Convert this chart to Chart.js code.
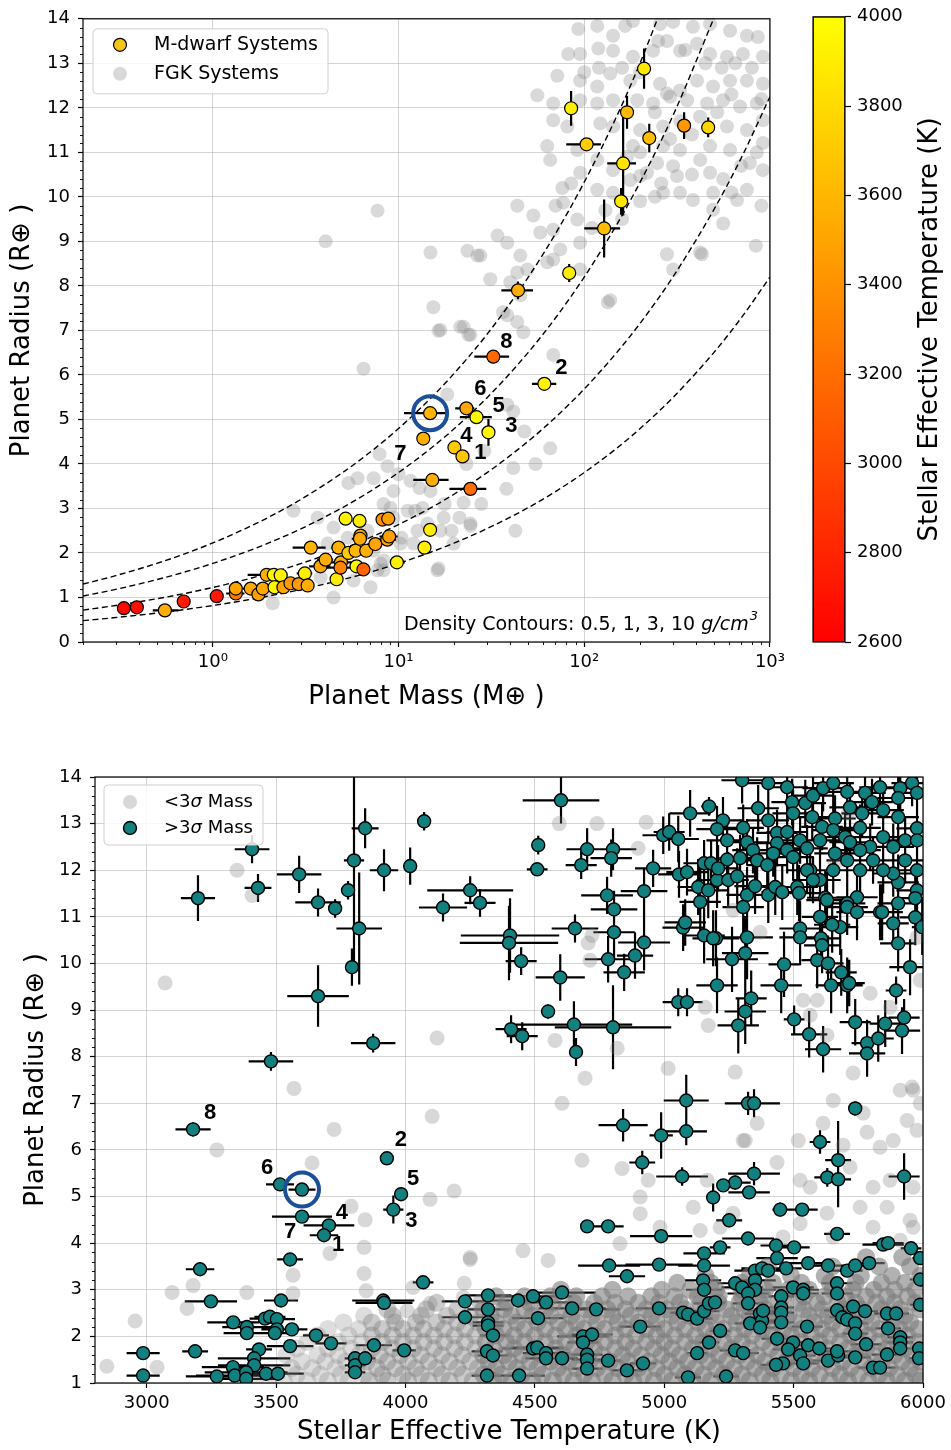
<!DOCTYPE html>
<html><head><meta charset="utf-8">
<script src="https://cdn.jsdelivr.net/npm/chart.js@4.4.1/dist/chart.umd.min.js"></script>
<style>
html,body{margin:0;padding:0;background:#fff}
body{width:951px;height:1450px;position:relative;overflow:hidden}
canvas{position:absolute;display:block}
</style></head><body>
<canvas id="topChart" style="left:0;top:0;width:790px;height:720px" width="790" height="720"></canvas>
<canvas id="cbarChart" style="left:790px;top:0;width:161px;height:720px" width="161" height="720"></canvas>
<canvas id="bottomChart" style="left:0;top:740px;width:951px;height:710px" width="951" height="710"></canvas>
<script>
// ---------------- DATA: top panel ----------------
const massTickValues = [1, 10, 100, 1000];
const massTickLabels = ['10\u2070', '10\u00b9', '10\u00b2', '10\u00b3'];
const cbarTicks = [2600, 2800, 3000, 3200, 3400, 3600, 3800, 4000];

// M-dwarf planets
const mdMass = [210,85,170,103,224,345,465,162,158,128,83,44,
  32.4,61,23.2,26.3,30.5,14.8,13.6,20,22.1,15.2,24.4,14.8,13.8,9.8,
  0.332,0.39,0.552,0.697,1.05,1.33,1.33,1.6,1.76,1.86,1.95,2.13,2.32,2.15,2.4,2.62,2.9,3.13,3.24,3.37,
  3.8,4.05,4.64,4.75,4.9,4.87,5.19,5.37,5.94,5.87,6.17,6.24,6.2,6.47,6.7,7.5,8.2,8.8,8.7,8.9];
const mdRad = [12.88,11.99,11.9,11.18,11.32,11.6,11.56,10.75,9.9,9.29,8.29,7.9,
  6.41,5.8,5.25,5.05,4.71,5.14,4.57,4.37,4.17,3.64,3.44,2.52,2.12,1.79,
  0.76,0.78,0.71,0.91,1.03,1.09,1.2,1.2,1.07,1.2,1.51,1.51,1.5,1.23,1.23,1.32,1.3,1.54,1.27,2.12,
  1.7,1.85,1.41,2.12,1.79,1.67,2.77,2.0,1.7,2.05,2.72,2.39,2.32,1.63,2.05,2.2,2.75,2.77,2.3,2.37];
const mdMassErrLo = [10,4,8,23,6,8,10,29,4,28,3,8.2,
  6.8,8.7,3,4.9,1.5,4.1,0.8,0.8,0.8,3.2,5.6,0.6,0.6,0.8,
  0.02,0.02,0.077,0.03,0.05,0.15,0.1,0.15,0.1,0.15,0.41,0.2,0.2,0.15,0.2,0.2,0.2,0.3,0.2,0.68,
  0.5,0.4,0.3,0.4,0.7,1.0,0.4,0.7,0.3,0.6,0.5,0.5,0.6,0.5,0.6,0.7,0.6,0.8,1.0,1.0];
const mdMassErrHi = [10,4,8,20,6,8,10,28,4,28,3,9,
  7,9.7,2.4,5.5,1.5,3.8,0.8,0.8,0.8,3.4,5.3,0.6,0.6,1.0,
  0.02,0.02,0.1,0.03,0.05,0.15,0.1,0.15,0.1,0.15,0.46,0.2,0.2,0.15,0.2,0.2,0.2,0.3,0.2,0.68,
  0.5,0.4,0.3,0.4,0.7,1.0,0.4,0.7,0.3,0.6,0.5,0.5,0.6,0.5,0.6,0.7,0.6,0.8,1.0,1.0];
const mdRadErr = [0.45,0.39,0.37,0.1,0.32,0.3,0.22,1.17,0.3,0.65,0.2,0.2,
  0.15,0.15,0.12,0.1,0.3,0.1,0.1,0.1,0.1,0.08,0.08,0.1,0.08,0.08,
  0.04,0.04,0.05,0.05,0.05,0.05,0.05,0.05,0.05,0.05,0.06,0.06,0.06,0.05,0.05,0.05,0.05,0.06,0.05,0.08,
  0.06,0.07,0.05,0.08,0.07,0.07,0.1,0.08,0.07,0.08,0.1,0.09,0.09,0.07,0.08,0.08,0.1,0.1,0.09,0.09];
const mdTeff = [3880,3900,3620,3720,3640,3430,3780,3850,3880,3640,3900,3550,
  3179,3928,3515,3983,3953,3600,3560,3704,3685,3554,3206,3900,3920,3920,
  2650,2680,3550,2750,2730,3250,3500,3520,3480,3520,3560,3950,3920,3950,3500,3450,3450,3920,3550,3580,
  3500,3560,3900,3560,3560,3330,3930,3720,3950,3600,3900,3500,3520,3150,3560,3500,3400,3480,3500,3480];
const topLabelText = ['8','2','6','5','3','7','4','1'];
const topLabelIndex = [12,13,14,15,16,18,19,20];
const topCircleIndex = 17;

// FGK planets (mass, radius)
const fgkPoints = [[92.9,13.77],[117.5,13.84],[143,13.62],[166,13.84],[183,13.95],[256,13.88],[301,13.93],[385,13.82],[476,13.88],[610,13.73],[752,13.62],[861,13.59],[916,13.15],[716,13.21],[587,13.15],[476,13.21],[405,13.44],[328,13.28],[279,13.5],[235,13.28],[183,13.15],[143,13.28],[119,13.33],[95,13.21],[82,13.21],
[71.6,12.72],[95,12.61],[117.5,12.48],[138,12.77],[177,12.61],[256,12.54],[279,12.32],[328,12.39],[405,12.61],[494,12.48],[610,12.61],[752,12.61],[916,12.54],[851,12.1],[690,12.03],[559,12.17],[459,12.1],[358,12.17],[290,12.25],[235,12.1],[193,12.17],[143,12.17],[117.5,12.1],[95,12.17],[68.1,12.1],[55.9,12.28],
[68.1,11.72],[81.1,11.58],[122,11.65],[143,11.58],[200,11.5],[266,11.58],[587,11.58],[752,11.5],[916,11.72],[916,11.21],[780,10.76],[610,11.05],[476,11.14],[421,10.83],[328,11.05],[266,11.14],[301,10.69],[247,10.76],[183,11.14],[200,10.47],[143,10.6],[117.5,10.83],[91.7,11.05],[63.2,11.14],[65.6,10.83],
[76.2,10.2],[95,10.54],[117.5,10.16],[143,10.09],[177,10.38],[218,10.54],[266,10.09],[316,10.47],[385,9.93],[494,10.09],[328,10.09],[476,10.54],[752,10.16],[916,10.6],[494,9.71],[665,9.93],[91.7,9.49],[68.1,9.26],[53.2,9.58],[43.6,9.8],[58,9.2],[95,8.97],[74.3,8.82],[63.2,8.53],[45.3,8.68],[38.5,8.97],[34.1,9.13],[27.6,8.68],[23.5,8.79],[14.86,8.75],
[31.2,8.15],[40,8.08],[49.4,8.37],[15.4,7.52],[16.8,7.01],[21.5,7.08],[38.5,7.34],[47,6.96],[279,8.71],[421,8.75],[301,8.37],[138,7.68],[95,8.37],[4.05,9.0],[7.71,9.69],[26.6,8.68],[16.4,6.99],[22.4,7.08],[23.8,6.9],
[43.6,8.3],[24.4,6.9],[36.6,7.41],[43.6,7.19],[68.1,6.45],[18.3,5.56],[38.5,5.33],[41.5,5.18],[45.3,7.79],[77,9.87],[68.1,8.59],[134,7.63],[430,8.71],
[250,13.5],[350,13.3],[450,13.0],[550,12.9],[650,13.0],[800,12.9],[900,12.2],[620,12.3],[520,11.9],[420,11.8],[330,11.7],[240,11.9],[200,12.8],[160,12.9],[120,12.9],[100,12.8],[850,11.0],[700,10.7],[560,10.4],[380,10.5],[260,10.3],[200,9.9],[160,9.5],[130,9.7],[110,9.3],[560,9.4],[620,10.1],[900,9.8],[840,8.9],[380,11.4],[290,11.3],[200,11.0],[240,10.0],[170,10.9],[85,10.3],[70,9.8],
[6.48,6.14],[8.73,3.95],[10,3.77],[5.38,3.57],[6.02,3.68],[7.34,3.68],[11.6,3.62],[13.46,3.01],[17.5,2.79],[24.4,2.61],[22.4,3.13],[8.3,3.1],[11.2,2.95],[9.4,2.79],[6.81,2.5],[12.65,2.5],[14.3,2.66],[4.47,2.57],[3.67,2.79],[2.72,2.95],[4.15,2.21],[5.32,2.34],[7.34,2.05],[8.3,1.83],[10.25,2.21],[16.8,2.5],[19.8,2.21],[16.4,1.65],[7.71,1.61],[3.81,1.45],[5.73,1.38],[7.07,1.23],[4.47,1.0],[2.1,0.87],[1.98,1.16],[8,1.76],[12.05,2.21],[14.86,3.39],
[7.9,4.22],[9.4,3.39],[9.06,3.01],[12.97,3.46],[12.3,2.95],[17.7,3.1],[21.3,2.79],[24.4,2.66],[27.9,3.1],[41.5,3.91],[38.1,3.44],[42.6,2.5],[65.6,4.35],[54.6,4.0],[23.2,4.0],[29,4.29],[16.2,1.61],[19.3,2.5],[10.4,2.34],[8.3,1.61],[47.6,4.73]];

// Density contours (mass in Earth masses, radius in Earth radii)
const contourMass = [0.2,0.3,0.5,0.7,1,1.5,2,3,5,7,10,15,20,30,50,70,100,150,200,300,500,700,1000];
const contourRho05 = [1.301,1.49,1.766,1.976,2.225,2.548,2.803,3.21,3.806,4.257,4.795,5.489,6.041,6.915,8.198,9.171,10.33,11.82,13.01,14.9];
const contourRho1 = [1.033,1.182,1.402,1.568,1.766,2.022,2.225,2.548,3.02,3.379,3.806,4.357,4.795,5.489,6.507,7.279,8.198,9.384,10.33,11.82,14.02];
const contourRho3 = [0.716,0.82,0.972,1.087,1.225,1.402,1.543,1.766,2.094,2.343,2.639,3.02,3.325,3.806,4.512,5.047,5.684,6.507,7.16,8.198,9.72,10.87,12.25];
const contourRho10 = [0.4795,0.5489,0.6507,0.7279,0.8198,0.9384,1.033,1.182,1.402,1.568,1.766,2.022,2.225,2.548,3.02,3.379,3.806,4.357,4.795,5.489,6.507,7.279,8.198];

// ---------------- DATA: bottom panel ----------------
// [Teff, radius, Teff error, radius error]
const tealCool = [[3179,6.44,68,0.15],[3515,5.26,54,0.1],[3600,5.15,52,0.08],[3600,4.57,116,0.1],[3704,4.38,98,0.1],[3685,4.17,55,0.1],[3554,3.65,50,0.08],[3928,5.82,25,0.12],[3983,5.05,25,0.1],[3953,4.72,39,0.3],
[3206,3.44,55,0.08],[3248,2.75,101,0.08],[3334,2.3,100,0.08],[3387,2.2,95,0.08],[3387,2.07,90,0.08],[3457,2.38,60,0.08],[3476,2.42,60,0.08],[3503,2.37,70,0.08],[3503,2.15,60,0.08],[3495,2.07,60,0.08],[3561,2.15,60,0.08],[3519,2.77,66,0.08],[3654,2.02,50,0.08],[3712,1.85,60,0.08],[3554,1.79,90,0.06],[3187,1.68,50,0.06],[2986,1.64,64,0.06],[2986,1.16,64,0.05],[3434,1.72,50,0.06],[3415,1.53,140,0.06],[3415,1.38,140,0.05],[3333,1.34,120,0.05],[3340,1.16,150,0.05],[3271,1.14,120,0.05],[3384,1.23,160,0.05],[3384,1.09,120,0.05],[3461,1.2,100,0.05],[3507,1.2,100,0.05],[3878,1.81,70,0.06],[3995,1.7,45,0.06],[3914,2.77,120,0.06],[3917,2.72,110,0.06],[4068,3.16,40,0.08],[3805,1.53,40,0.06],[3805,1.38,40,0.05],[3805,1.23,40,0.05],[3844,1.53,40,0.06],[4230,2.75,90,0.06],[4230,2.41,90,0.06],
[3198,11.4,66,0.49],[3407,12.45,67,0.3],[3430,11.62,52,0.3],[3589,11.91,86,0.4],[3662,11.31,88,0.3],[3728,11.18,26,0.2],[3778,11.57,15,0.2],[3801,12.21,39,2.3],[3844,12.9,52,0.43],[3821,10.75,88,1.2],[3793,9.92,20,0.4],[3917,12.0,55,0.45],[4018,12.09,20,0.4],[4072,13.05,15,0.2],[3662,9.3,119,0.66],[3480,7.9,86,0.2],[3875,8.29,86,0.2],[4250,11.57,166,0.3],[4145,11.2,93,0.3],[4288,11.3,60,0.3]];
const tealWarm = [[4404,10.6,190,0.8],[4400,10.44,190,0.8],[4447,10.05,60,0.3],[4598,9.7,95,0.5],[4601,13.5,148,0.5],[4513,12.54,20,0.2],[4509,12.02,40,0.1],[4702,12.45,80,0.45],[4802,12.45,90,0.45],[4795,12.26,80,0.4],[4679,12.11,60,0.3],[4779,11.46,100,0.4],[4922,11.55,90,0.5],[4957,12.04,70,0.4],[4806,11.16,90,0.4],[4655,10.75,90,0.3],[4806,10.67,80,0.6],[4783,10.09,90,0.5],[4845,9.81,80,0.4],[4887,10.17,70,0.5],[4922,10.45,100,0.6],[4551,8.97,20,0.15],[4408,8.59,60,0.3],[4451,8.44,60,0.3],[4651,8.69,225,0.5],[4802,8.63,225,0.9],[4659,8.1,20,0.3],[4996,12.75,80,0.4],[5019,12.82,60,0.4],
[4841,6.53,95,0.35],[4915,5.73,50,0.25],[4988,6.31,45,0.5],[4702,4.36,20,0.1],[4783,4.36,60,0.1],[4988,4.15,120,0.15],[4787,3.52,120,0.1],[4856,3.29,70,0.1],[4980,3.54,130,0.1],[4605,2.94,130,0.1],[4493,2.86,150,0.1],[4543,2.73,100,0.1],[4435,2.77,110,0.1],[4319,2.88,90,0.1],[4319,2.58,80,0.1],[4319,2.3,60,0.1],[4319,2.23,60,0.1],[4338,2.02,50,0.1],[4644,2.6,130,0.1],[4737,2.58,90,0.1],[4512,2.39,100,0.1],[4980,2.6,90,0.1],[4907,2.21,80,0.1],[4686,2.0,100,0.1],[4721,2.04,80,0.1],[4686,1.87,60,0.1],[4702,1.61,60,0.1],[4702,1.5,60,0.1],[4702,1.31,60,0.1],[4783,1.48,50,0.1],[4856,1.27,60,0.1],[4918,1.42,50,0.1],[4315,1.68,60,0.1],[4338,1.59,60,0.1],[4315,1.16,60,0.1],[4439,1.16,100,0.1],[4493,1.74,120,0.1],[4509,1.76,100,0.1],[4543,1.64,90,0.1],[4543,1.53,80,0.1],[4605,1.53,60,0.1]];
const tealHot = [[5085,7.06,87,0.55],[5085,6.4,80,0.3],[5069,5.43,100,0.2],[5324,7.0,90,0.25],[5347,7.0,100,0.3],[5738,6.89,15,0.15],[5602,6.17,40,0.25],[5672,5.78,50,0.84],[5630,5.41,50,0.2],[5672,5.37,50,0.6],[5927,5.43,60,0.5],[5347,5.49,100,0.25],[5274,5.3,60,0.15],[5228,5.24,15,0.1],[5328,5.09,80,0.1],[5189,4.98,15,0.3],[5448,4.72,30,0.15],[5533,4.72,60,0.1],[5251,4.49,50,0.15],[5668,4.2,50,0.1],[5324,4.1,100,0.1],[5432,3.95,60,0.1],[5502,3.91,60,0.1],[5216,3.91,40,0.1],[5154,3.78,80,0.1],[5154,3.52,100,0.1],[5436,3.68,80,0.1],[5846,3.97,80,0.1],[5865,4.0,60,0.1],[5954,3.89,40,0.1],[5989,3.68,30,0.1],
[5556,3.57,80,0.1],[5633,3.52,80,0.1],[5707,3.41,60,0.1],[5738,3.52,60,0.1],[5792,3.57,60,0.1],[5351,3.41,80,0.1],[5378,3.46,80,0.1],[5401,3.41,60,0.1],[5471,3.46,60,0.1],[5150,3.2,70,0.1],[5154,3.0,70,0.1],[5274,3.14,70,0.1],[5301,3.05,80,0.1],[5351,3.2,80,0.1],[5351,3.0,80,0.1],[5324,2.92,80,0.1],[5498,3.05,80,0.1],[5537,3.0,60,0.1],[5537,2.92,60,0.1],[5668,3.14,60,0.1],[5668,2.92,60,0.1],[5989,3.22,40,0.1],
[5073,2.51,50,0.1],[5092,2.47,50,0.1],[5127,2.38,60,0.1],[5154,2.54,60,0.1],[5173,2.71,60,0.1],[5196,2.73,40,0.1],[5324,2.71,60,0.1],[5332,2.28,60,0.1],[5370,2.49,60,0.1],[5378,2.34,60,0.1],[5370,2.19,60,0.1],[5382,2.55,60,0.1],[5452,2.86,50,0.1],[5452,2.62,50,0.1],[5452,2.51,50,0.1],[5452,2.3,50,0.1],[5552,2.21,60,0.1],[5668,2.56,50,0.1],[5688,2.41,50,0.1],[5707,2.36,50,0.1],[5730,2.64,50,0.1],[5738,2.28,50,0.1],[5738,2.06,50,0.1],[5776,2.54,50,0.1],[5861,2.49,50,0.1],[5896,2.49,50,0.1],[5865,2.17,50,0.1],[5912,1.98,50,0.1],[5912,1.87,50,0.1],[5912,1.74,50,0.1],[5989,2.68,40,0.1],
[5216,2.12,40,0.1],[5173,1.87,40,0.1],[5127,1.64,40,0.1],[5274,1.7,60,0.1],[5305,1.64,60,0.1],[5436,1.95,60,0.1],[5498,1.87,60,0.1],[5479,1.72,60,0.1],[5525,1.59,60,0.1],[5537,1.42,60,0.1],[5556,1.81,60,0.1],[5599,1.74,60,0.1],[5633,1.48,60,0.1],[5672,1.59,60,0.1],[5668,1.68,60,0.1],[5459,1.42,60,0.1],[5432,1.39,60,0.1],[5738,1.55,60,0.1],[5780,1.83,60,0.1],[5807,1.33,60,0.1],[5834,1.33,60,0.1],[5861,1.61,60,0.1],[5985,1.74,40,0.1],[5985,1.53,40,0.1],[5092,1.12,50,0.1],[5239,1.14,50,0.1]];
const tealHotGiants = [[5054,9.17,60,0.3],[5088,9.17,60,0.3],[5204,9.53,80,0.6],[5286,8.67,80,0.6],[5313,8.97,80,0.7],[5336,9.25,60,0.6],[5262,10.09,100,0.7],[5320,10.56,100,0.9],[5313,10.22,90,0.8],[5200,10.54,90,0.6],[5154,10.6,80,0.6],[5189,10.54,80,0.6],[5073,10.77,80,0.5],[5081,10.88,80,0.5],[5463,9.98,60,0.7],[5452,9.53,80,0.6],[5525,10.75,80,0.6],[5525,10.56,80,0.6],[5606,10.54,70,0.6],[5610,10.39,70,0.6],[5591,10.07,60,0.6],[5633,10.0,60,0.6],[5684,9.81,60,0.5],[5645,9.53,60,0.6],[5707,9.53,60,0.6],[5715,9.58,60,0.5],[5502,8.8,40,0.3],[5560,8.48,70,0.5],[5614,8.16,70,0.5],[5738,8.74,60,0.5],[5784,8.29,60,0.5],[5784,8.07,70,0.5],[5827,8.39,60,0.5],[5854,8.71,60,0.5],[5919,8.56,70,0.5],[5927,8.84,60,0.4],[5896,9.42,40,0.3],[5950,9.92,80,0.6],[5970,10.99,60,0.6],[5997,10.78,40,0.6],[5904,10.43,70,0.6],[5885,10.86,60,0.5],[5834,11.1,80,0.6],[5745,11.42,80,0.6],[5707,11.29,70,0.6],[5680,10.78,70,0.6],[5649,10.83,70,0.6],[5622,11.41,70,0.6],[5602,11.0,70,0.6],
[5131,11.64,80,0.6],[5170,11.57,80,0.6],[5139,11.32,80,0.7],[5204,11.79,80,0.6],[5247,11.79,80,0.6],[5282,11.87,80,0.6],[5320,11.47,80,0.6],[5305,11.21,80,0.6],[5351,11.66,80,0.6],[5402,11.47,80,0.6],[5429,11.64,80,0.6],[5456,11.53,80,0.6],[5514,11.64,80,0.6],[5521,11.51,80,0.6],[5564,12.0,80,0.6],[5602,11.79,80,0.6],[5629,11.36,80,0.6],[5707,11.21,80,0.6],[5745,11.1,80,0.6],[5842,11.1,80,0.6],[5904,11.74,80,0.6],[5904,11.29,80,0.6],[5977,12.0,80,0.6],[5977,11.57,80,0.6],[5970,11.4,80,0.6],
[5301,13.93,80,0.5],[5402,13.87,80,0.5],[5475,13.78,80,0.5],[5494,13.46,80,0.5],[5545,13.44,80,0.5],[5575,13.6,80,0.5],[5614,13.76,80,0.5],[5653,13.87,80,0.5],[5707,13.68,80,0.5],[5776,13.66,80,0.5],[5834,13.78,80,0.5],[5912,13.76,80,0.5],[5958,13.87,80,0.5],[5977,13.66,80,0.5],[5904,13.55,80,0.5],[5363,13.33,80,0.5],[5173,13.37,30,0.2],[5100,13.22,80,0.5],[5498,13.22,80,0.5],[5660,13.11,80,0.5],[5718,13.35,80,0.5],[5765,13.22,80,0.5],[5803,13.46,80,0.5],[5846,13.29,80,0.5],[5904,13.14,80,0.5],[5227,13.07,80,0.5],[5204,12.88,80,0.5],[5305,12.91,80,0.5],[5402,13.07,80,0.5],[5436,12.8,80,0.5],[5475,12.82,80,0.5],[5525,12.64,80,0.5],[5572,13.14,80,0.5],[5610,12.93,80,0.5],[5653,12.86,80,0.5],[5699,12.71,80,0.5],[5757,12.91,80,0.5],[5796,12.5,80,0.5],[5846,12.71,80,0.5],[5885,12.5,80,0.5],[5931,12.64,80,0.5],[5977,12.9,80,0.5],[5977,12.64,80,0.5],[5054,12.67,80,0.5],[5320,12.6,80,0.5],[5343,12.43,80,0.5],[5436,12.58,80,0.5],[5475,12.43,80,0.5],[5552,12.47,80,0.5],[5602,12.64,80,0.5],[5660,12.36,80,0.5],[5718,12.6,80,0.5],[5757,12.43,80,0.5],[5807,12.21,80,0.5],[5931,12.21,80,0.5],[5885,11.93,80,0.5],[5243,12.64,80,0.5],[5243,12.23,80,0.5],[5154,12.15,80,0.5],[5181,12.15,80,0.5],[5208,12.04,80,0.5],[5057,11.91,80,0.5],[5088,11.96,80,0.5],[5293,12.26,80,0.5],[5359,12.21,80,0.5],[5398,12.11,80,0.5],[5421,12.36,80,0.5],[5498,12.28,80,0.5],[5552,12.0,80,0.5],[5575,11.79,80,0.5],[5653,12.0,80,0.5],[5707,12.21,80,0.5],[5757,12.0,80,0.5],[5846,12.0,80,0.5]];
const bottomLabelText = ['8','6','7','4','1','2','5','3'];
const bottomLabelIndex = [0,1,3,4,5,7,8,9];
const bottomCircleIndex = 2;

// <3 sigma planets (Teff, radius): scattered ones
const graySparse = [[3569,7.32],[4103,6.72],[3724,6.44],[3271,6.0],[3639,5.72],[4188,5.12],[4095,4.94],[3790,4.79],[3844,4.5],[3708,3.78],[3840,3.91],[3565,3.31],[3840,3.35],[3098,2.94],[3179,3.09],[3848,2.98],[3565,2.92],[2955,2.33],[2846,1.36],[3040,1.34],[3156,2.6],[3387,2.94],[4250,3.65],[4227,3.14],[4223,2.84],[4095,2.71],[4029,3.05],[4006,2.55],
[3071,9.58],[3349,12.0],[3407,11.46],[4122,8.4],[4594,13.0],[4740,13.0],[4930,13.03],[4899,12.47],[4721,10.6],[4706,10.44],[4713,10.07],[4578,8.35],[4818,8.18],[4694,7.54],[5015,7.75],[5170,8.67],[5158,9.06],[5274,7.67],[5537,9.21],[5591,9.21],[5564,8.89],[5629,8.46],[5730,7.65],[5796,9.36],[5873,9.06],[5958,7.35],[5989,9.64],[5977,10.56],[5711,13.22],[5660,12.15],[5370,10.67],[5266,11.14],
[5359,6.57],[5305,6.2],[5518,6.2],[5614,6.57],[5653,7.06],[5691,6.1],[5784,6.38],[5834,6.06],[5885,6.2],[5939,6.63],[5977,6.42],[5912,7.28],[5962,7.28],[5989,7.0],[5769,6.79],[5807,5.2],[5873,5.35],[5962,5.2],[5757,4.77],[5861,4.77],[5950,4.49],[5807,4.34],[5629,4.64],[5525,5.35],[5564,5.2],[5436,5.73],[5718,5.63],[5266,4.64],[5216,4.34],[5166,5.35],[5525,4.42],[5653,4.13],[5459,4.13],[5912,4.06],[5962,4.34],
[4605,7.0],[4682,5.78],[4837,5.6],[4938,5.35],[4907,4.99],[4907,4.63],[4454,3.84],[4250,3.69],[4551,3.63],[4829,3.99],[4984,4.34],[5313,6.2],[5112,4.77],[5139,4.27]];
// dense low-radius cloud: one row of Teff values per radius level
const cloudRadius = [1.05,1.18,1.32,1.46,1.6,1.74,1.88,2.02,2.16,2.3,2.44,2.58,2.72,2.86,3.0,3.15,3.3,3.5,3.7];
const cloudTeff = [
[3420,3530,3620,3700,3780,3860,3930,4010,4090,4170,4260,4340,4410,4490,4570,4650,4720,4800,4880,4960,5030,5110,5180,5260,5330,5410,5490,5560,5640,5710,5790,5860,5930,5990],
[3480,3580,3670,3750,3840,3910,3990,4060,4140,4220,4300,4370,4450,4530,4610,4690,4770,4850,4920,5000,5080,5150,5230,5300,5380,5450,5530,5600,5680,5750,5830,5900,5970],
[3560,3640,3730,3810,3890,3960,4040,4120,4200,4280,4350,4430,4510,4590,4660,4740,4820,4900,4970,5050,5120,5200,5270,5350,5420,5500,5570,5650,5720,5800,5870,5950],
[3600,3690,3770,3850,3930,4010,4090,4170,4250,4320,4400,4480,4560,4630,4710,4790,4860,4940,5020,5090,5170,5240,5320,5390,5470,5540,5620,5690,5770,5840,5920,5990],
[3540,3660,3740,3820,3900,3980,4060,4140,4220,4300,4380,4450,4530,4610,4680,4760,4840,4910,4990,5060,5140,5210,5290,5360,5440,5510,5590,5660,5740,5810,5890,5960],
[3580,3700,3790,3870,3950,4030,4110,4190,4270,4340,4420,4500,4580,4650,4730,4810,4880,4960,5030,5110,5180,5260,5330,5410,5480,5560,5630,5710,5780,5860,5930],
[3620,3740,3830,3910,3990,4070,4150,4230,4310,4390,4460,4540,4620,4700,4770,4850,4930,5000,5080,5150,5230,5300,5380,5450,5530,5600,5680,5750,5830,5900,5980],
[3660,3780,3870,3950,4030,4110,4190,4270,4350,4420,4500,4580,4660,4730,4810,4890,4970,5040,5120,5190,5270,5340,5420,5490,5570,5640,5720,5790,5870,5940],
[3700,3820,3910,3990,4070,4150,4230,4310,4380,4460,4540,4620,4690,4770,4850,4930,5000,5080,5160,5230,5310,5380,5460,5530,5610,5680,5760,5830,5910,5980],
[3760,3870,3960,4040,4120,4200,4280,4350,4430,4510,4590,4660,4740,4820,4900,4970,5050,5130,5200,5280,5350,5430,5500,5580,5650,5730,5800,5880,5950],
[3840,3950,4060,4160,4250,4330,4410,4490,4560,4640,4720,4800,4870,4950,5030,5100,5180,5260,5330,5410,5480,5560,5630,5710,5780,5860,5930],
[3930,4080,4200,4300,4380,4460,4540,4620,4700,4780,4850,4930,5010,5080,5160,5240,5310,5390,5460,5540,5610,5690,5760,5840,5910,5990],
[4120,4290,4390,4480,4570,4650,4730,4810,4900,4980,5060,5140,5210,5290,5370,5440,5520,5590,5670,5740,5820,5890,5970],
[4350,4460,4560,4660,4760,4860,4950,5040,5130,5210,5300,5380,5460,5540,5620,5700,5780,5860,5940],
[4600,4800,4990,5100,5200,5300,5390,5480,5560,5650,5730,5810,5890,5970],
[5050,5180,5300,5420,5530,5640,5740,5840,5930],
[5160,5330,5490,5620,5760,5880,5990],
[5400,5650,5830,5950],
[5780,5920]];
const teffTickValues = [3000,3500,4000,4500,5000,5500,6000];
const radiusTickValues = [1,2,3,4,5,6,7,8,9,10,11,12,13,14];

// ---------------- STYLE / HELPERS ----------------
const FONT = "'DejaVu Sans', sans-serif";
const GRID = 'rgba(176,176,176,0.55)';
const TITLE_SIZE = 26;
Chart.defaults.font.family = FONT;
Chart.defaults.color = '#000';
Chart.defaults.animation = false;
Chart.defaults.responsive = false;
Chart.defaults.plugins.legend.display = false;
Chart.defaults.plugins.tooltip.enabled = false;

function autumn(t){ const f = Math.max(0, Math.min(1, (t-2600)/1400)); return 'rgb(255,' + Math.round(255*f) + ',0)'; }
function cloudColor(t){ const a = t < 3850 ? 0.26 : (t < 4300 ? 0.4 : 0.6); return 'rgba(125,125,125,' + a + ')'; }
function roundRect(ctx,x,y,w,h,r){ctx.beginPath();ctx.moveTo(x+r,y);ctx.arcTo(x+w,y,x+w,y+h,r);ctx.arcTo(x+w,y+h,x,y+h,r);ctx.arcTo(x,y+h,x,y,r);ctx.arcTo(x,y,x+w,y,r);ctx.closePath();}
function drawFrame(chart){ const {ctx, chartArea:a} = chart; ctx.save(); ctx.strokeStyle='#000'; ctx.lineWidth=1.2; ctx.strokeRect(a.left, a.top, a.right-a.left, a.bottom-a.top); ctx.restore(); }
function drawErrorBars(chart, bars, lw){
  const {ctx, chartArea:a, scales:{x, y}} = chart;
  ctx.save(); ctx.beginPath(); ctx.rect(a.left, a.top, a.right-a.left, a.bottom-a.top); ctx.clip();
  ctx.strokeStyle = '#000'; ctx.lineWidth = lw; ctx.beginPath();
  for (const b of bars){
    const px = x.getPixelForValue(b[0]), py = y.getPixelForValue(b[1]);
    if (b[2] !== b[3]) { ctx.moveTo(x.getPixelForValue(b[2]), py); ctx.lineTo(x.getPixelForValue(b[3]), py); }
    if (b[4] !== b[5]) { ctx.moveTo(px, y.getPixelForValue(b[4])); ctx.lineTo(px, y.getPixelForValue(b[5])); }
  }
  ctx.stroke(); ctx.restore();
}
function drawMinorTicks(chart, xVals, yVals){
  const {ctx, chartArea:a, scales:{x, y}} = chart;
  ctx.save(); ctx.strokeStyle='#000'; ctx.lineWidth=0.9; ctx.beginPath();
  for (const v of xVals){ const p = Math.round(x.getPixelForValue(v))+0.5; ctx.moveTo(p, a.bottom); ctx.lineTo(p, a.bottom+3); }
  for (const v of yVals){ const p = Math.round(y.getPixelForValue(v))+0.5; ctx.moveTo(a.left, p); ctx.lineTo(a.left-3, p); }
  ctx.stroke(); ctx.restore();
}
function drawLabels(chart, dsIndex, texts, idxs, offsets, circleIdx){
  const {ctx} = chart; const meta = chart.getDatasetMeta(dsIndex);
  ctx.save(); ctx.fillStyle='#000'; ctx.font = "bold 22px 'Liberation Sans', Arial, sans-serif"; ctx.textAlign='center'; ctx.textBaseline='middle';
  texts.forEach((t,i)=>{ const el = meta.data[idxs[i]]; const o = offsets[t]; ctx.fillText(t, el.x+o[0], el.y+o[1]); });
  const c = meta.data[circleIdx];
  ctx.strokeStyle = '#1c4f9a'; ctx.lineWidth = 4; ctx.beginPath(); ctx.arc(c.x, c.y, 17, 0, Math.PI*2); ctx.stroke();
  ctx.restore();
}

// ---------------- TOP CHART ----------------
const mdBars = mdMass.map((m,i)=>[m, mdRad[i], m-mdMassErrLo[i], m+mdMassErrHi[i], mdRad[i]-mdRadErr[i], mdRad[i]+mdRadErr[i]]);
const minorMass = [];
[0.1,1,10,100].forEach(d=>{ for(let k=2;k<=9;k++){ const v=k*d; if(v>=0.2 && v<1000) minorMass.push(v); } });
const minorRadTop = []; for (let i=1;i<70;i++){ if(i%5) minorRadTop.push(i/5); }
const topOffsets = {'8':[13,-15],'2':[17,-16],'6':[14,-19],'5':[22,-11],'3':[23,-6],'7':[-23,15],'4':[12,-12],'1':[18,-3]};
function contourDataset(rad){ return {type:'line', data: rad.map((r,i)=>({x:contourMass[i], y:r})), borderColor:'#000', borderWidth:1.4, borderDash:[6,3.5], pointRadius:0, showLine:true, fill:false, cubicInterpolationMode:'monotone', order:1}; }

new Chart(document.getElementById('topChart'), {
  type: 'scatter',
  data: { datasets: [
    {label:'M-dwarf Systems', data: mdMass.map((m,i)=>({x:m, y:mdRad[i]})), pointRadius:6.5, pointBackgroundColor: mdTeff.map(autumn), pointBorderColor:'#000', pointBorderWidth:1.2, order:0},
    contourDataset(contourRho05), contourDataset(contourRho1), contourDataset(contourRho3), contourDataset(contourRho10),
    {label:'FGK Systems', data: fgkPoints.map(p=>({x:p[0], y:p[1]})), pointRadius:7, pointBackgroundColor:'rgba(140,140,140,0.33)', pointBorderWidth:0, order:3}
  ]},
  options: {
    layout: {padding:{top:15, right:20, left:0, bottom:0}},
    scales: {
      x: {type:'logarithmic', min:0.2, max:1000,
        afterBuildTicks: s => { s.ticks = massTickValues.map(v=>({value:v})); },
        afterFit: s => { s.height = 78; },
        ticks: {autoSkip:false, maxRotation:0, padding:5, font:{size:18}, callback: v => massTickLabels[Math.round(Math.log10(v))]},
        grid: {color:GRID, lineWidth:1, tickLength:5, tickColor:'#000', tickWidth:1.2},
        border: {display:false},
        title: {display:true, text:'Planet Mass (M\u2295 )', font:{size:TITLE_SIZE}, padding:{top:0, bottom:7}}},
      y: {min:0, max:14,
        afterBuildTicks: s => { s.ticks = [0,1,2,3,4,5,6,7,8,9,10,11,12,13,14].map(v=>({value:v})); },
        afterFit: s => { s.width = 83; },
        ticks: {padding:8, font:{size:18}},
        grid: {color:GRID, lineWidth:1, tickLength:5, tickColor:'#000', tickWidth:1.2},
        border: {display:false},
        title: {display:true, text:'Planet Radius (R\u2295 )', font:{size:TITLE_SIZE}, padding:{top:7, bottom:0}}}
    }
  },
  plugins: [{
    id:'topExtras',
    beforeDatasetDraw(chart, args){ if (args.index === 0) drawErrorBars(chart, mdBars, 2.2); },
    afterDatasetsDraw(chart){ drawLabels(chart, 0, topLabelText, topLabelIndex, topOffsets, topCircleIndex); },
    afterDraw(chart){
      drawFrame(chart); drawMinorTicks(chart, minorMass, minorRadTop);
      const {ctx, chartArea:a} = chart;
      ctx.save();
      roundRect(ctx, a.left+10, a.top+10, 235, 65, 4); ctx.fillStyle='rgba(255,255,255,0.85)'; ctx.fill(); ctx.strokeStyle='#d0d0d0'; ctx.lineWidth=1; ctx.stroke();
      ctx.beginPath(); ctx.arc(a.left+37, a.top+26, 6.5, 0, Math.PI*2); ctx.fillStyle='#f5c518'; ctx.fill(); ctx.strokeStyle='#000'; ctx.lineWidth=1.2; ctx.stroke();
      ctx.beginPath(); ctx.arc(a.left+37, a.top+55, 7, 0, Math.PI*2); ctx.fillStyle='rgba(140,140,140,0.33)'; ctx.fill();
      ctx.fillStyle='#000'; ctx.font='19px '+FONT; ctx.textBaseline='middle'; ctx.textAlign='left';
      ctx.fillText('M-dwarf Systems', a.left+71, a.top+26); ctx.fillText('FGK Systems', a.left+71, a.top+55);
      const t1 = 'Density Contours: 0.5, 1, 3, 10 ', t2 = 'g/cm', t3 = '3';
      ctx.font='19px '+FONT; const w1 = ctx.measureText(t1).width;
      ctx.font='italic 19px '+FONT; const w2 = ctx.measureText(t2).width;
      ctx.font='italic 13px '+FONT; const w3 = ctx.measureText(t3).width;
      let xs = a.right - 12 - (w1+w2+w3+1); const yb = a.bottom - 17;
      ctx.font='19px '+FONT; ctx.fillText(t1, xs, yb); xs += w1;
      ctx.font='italic 19px '+FONT; ctx.fillText(t2, xs, yb); xs += w2+1;
      ctx.font='italic 13px '+FONT; ctx.fillText(t3, xs, yb-8);
      ctx.restore();
    }
  }]
});

// ---------------- COLORBAR ----------------
new Chart(document.getElementById('cbarChart'), {
  type: 'bar',
  data: { labels:['Teff'], datasets: [{ data: [[cbarTicks[0], cbarTicks[cbarTicks.length-1]]],
    backgroundColor: (c) => { const a = c.chart.chartArea; if (!a) return 'red'; const g = c.chart.ctx.createLinearGradient(0, a.bottom, 0, a.top); g.addColorStop(0, autumn(2600)); g.addColorStop(0.5, autumn(3300)); g.addColorStop(1, autumn(4000)); return g; },
    borderColor:'#000', borderWidth:1, borderSkipped:false, barPercentage:1, categoryPercentage:1 }]},
  options: {
    layout: {padding:{left:23, top:15, bottom:78, right:0}},
    scales: {
      x: {display:false},
      y: {position:'right', min:2600, max:4000,
        afterBuildTicks: s => { s.ticks = cbarTicks.map(v=>({value:v})); },
        afterFit: s => { s.width = 106; },
        ticks: {padding:6, font:{size:18}, callback: v => String(v)},
        grid: {drawOnChartArea:false, drawTicks:true, tickLength:6, tickColor:'#000', tickWidth:1.2},
        border: {display:false},
        title: {display:false}}
    }
  },
  plugins: [{ id:'cbExtras', afterDraw(chart){
    drawFrame(chart);
    const {ctx, chartArea:a} = chart;
    ctx.save(); ctx.translate(140, (a.top+a.bottom)/2); ctx.rotate(-Math.PI/2);
    ctx.fillStyle='#000'; ctx.font=TITLE_SIZE+'px '+FONT; ctx.textAlign='center'; ctx.textBaseline='middle';
    ctx.fillText('Stellar Effective Temperature (K)', 0, 0); ctx.restore();
  } }]
});

// ---------------- BOTTOM CHART ----------------
const tealAll = tealCool.concat(tealWarm, tealHot, tealHotGiants);
const tealBars = tealAll.map(p=>[p[0], p[1], p[0]-p[2], p[0]+p[2], p[1]-p[3], p[1]+p[3]]);
const grayCloud = [];
cloudTeff.forEach((row,i)=>row.forEach(t=>grayCloud.push({x:t, y:cloudRadius[i]})));
const minorRadBottom = []; for (let i=6;i<70;i++){ if(i%5) minorRadBottom.push(i/5); }
const bottomOffsets = {'8':[17,-16],'6':[-13,-16],'7':[-12,15],'4':[13,-13],'1':[14,10],'2':[14,-18],'5':[12,-15],'3':[18,11]};

new Chart(document.getElementById('bottomChart'), {
  type: 'scatter',
  data: { datasets: [
    {label:'>3\u03c3 Mass', data: tealAll.map(p=>({x:p[0], y:p[1]})), pointRadius:6.5, pointBackgroundColor:'#138080', pointBorderColor:'#000', pointBorderWidth:1.4, order:0},
    {label:'<3\u03c3 Mass cloud', data: grayCloud, pointRadius:9, pointBorderWidth:0, order:1,
      pointBackgroundColor: c => cloudColor(c.raw ? c.raw.x : 5000)},
    {label:'<3\u03c3 Mass', data: graySparse.map(p=>({x:p[0], y:p[1]})), pointRadius:7.5, pointBackgroundColor:'rgba(125,125,125,0.3)', pointBorderWidth:0, order:2}
  ]},
  options: {
    layout: {padding:{top:37, right:28, left:0, bottom:0}},
    scales: {
      x: {type:'linear', min:2800, max:6000,
        afterBuildTicks: s => { s.ticks = teffTickValues.map(v=>({value:v})); },
        afterFit: s => { s.height = 67; },
        ticks: {autoSkip:false, maxRotation:0, padding:5, font:{size:18}, callback: v => String(v)},
        grid: {color:GRID, lineWidth:1, tickLength:5, tickColor:'#000', tickWidth:1.2},
        border: {display:false},
        title: {display:true, text:'Stellar Effective Temperature (K)', font:{size:TITLE_SIZE}, padding:{top:0, bottom:2}}},
      y: {min:1, max:14,
        afterBuildTicks: s => { s.ticks = radiusTickValues.map(v=>({value:v})); },
        afterFit: s => { s.width = 95; },
        ticks: {padding:8, font:{size:18}},
        grid: {color:GRID, lineWidth:1, tickLength:5, tickColor:'#000', tickWidth:1.2},
        border: {display:false},
        title: {display:true, text:'Planet Radius (R\u2295 )', font:{size:TITLE_SIZE}, padding:{top:21, bottom:0}}}
    }
  },
  plugins: [{
    id:'bottomExtras',
    beforeDatasetDraw(chart, args){ if (args.index === 2) drawErrorBars(chart, tealBars, 2.2); },
    afterDatasetsDraw(chart){ drawLabels(chart, 0, bottomLabelText, bottomLabelIndex, bottomOffsets, bottomCircleIndex); },
    afterDraw(chart){
      drawFrame(chart); drawMinorTicks(chart, [], minorRadBottom);
      const {ctx, chartArea:a} = chart;
      ctx.save();
      roundRect(ctx, a.left+9, a.top+8, 159, 60, 4); ctx.fillStyle='rgba(255,255,255,0.85)'; ctx.fill(); ctx.strokeStyle='#d0d0d0'; ctx.lineWidth=1; ctx.stroke();
      ctx.beginPath(); ctx.arc(a.left+35, a.top+25, 7, 0, Math.PI*2); ctx.fillStyle='rgba(125,125,125,0.3)'; ctx.fill();
      ctx.beginPath(); ctx.arc(a.left+35, a.top+51, 6.5, 0, Math.PI*2); ctx.fillStyle='#138080'; ctx.fill(); ctx.strokeStyle='#000'; ctx.lineWidth=1.4; ctx.stroke();
      ctx.fillStyle='#000'; ctx.textBaseline='middle'; ctx.textAlign='left';
      const rows = [['<3', a.top+25], ['>3', a.top+51]];
      rows.forEach(r=>{
        let xs = a.left+69;
        ctx.font='18px '+FONT; ctx.fillText(r[0], xs, r[1]); xs += ctx.measureText(r[0]).width;
        ctx.font='italic 18px '+FONT; ctx.fillText('\u03c3', xs, r[1]); xs += ctx.measureText('\u03c3').width;
        ctx.font='18px '+FONT; ctx.fillText(' Mass', xs, r[1]);
      });
      ctx.restore();
    }
  }]
});
</script>
</body></html>
